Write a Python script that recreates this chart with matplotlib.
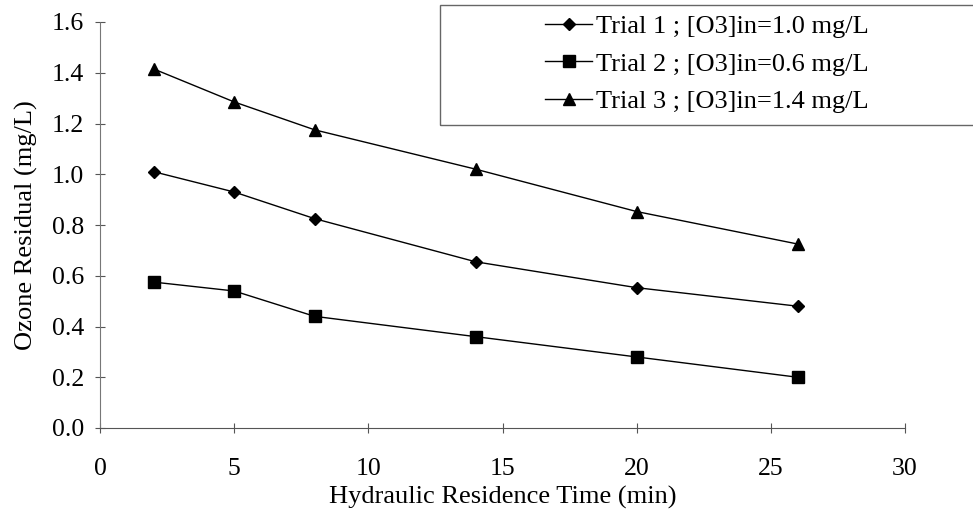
import matplotlib.pyplot as plt
from matplotlib.patches import Rectangle

plt.rcParams['font.family'] = ['Liberation Serif', 'DejaVu Serif']

# data
hrt = [2, 5, 8, 14, 20, 26]
trial1 = [1.01, 0.93, 0.825, 0.655, 0.553, 0.48]
trial2 = [0.575, 0.54, 0.44, 0.36, 0.28, 0.20]
trial3 = [1.415, 1.285, 1.175, 1.02, 0.853, 0.725]
labels = ["Trial 1 ; [O3]in=1.0 mg/L",
          "Trial 2 ; [O3]in=0.6 mg/L",
          "Trial 3 ; [O3]in=1.4 mg/L"]

fig = plt.figure(figsize=(9.73, 5.14), dpi=100)
ax = fig.add_axes([100/973, 1 - 428/514, 805/973, 406/514])

ax.plot(hrt, trial1, color='black', lw=1, marker='D', ms=6, label=labels[0])
ax.plot(hrt, trial2, color='black', lw=1, marker='s', ms=8.5, label=labels[1])
ax.plot(hrt, trial3, color='black', lw=1, marker='^', ms=8.5, label=labels[2])

ax.set_xlim(0, 30)
ax.set_ylim(0, 1.6)
ax.set_xticks(range(0, 31, 5))
ax.set_yticks([i * 0.2 for i in range(9)])
ax.set_yticklabels([f"{i * 0.2:.1f}" for i in range(9)])
ax.tick_params(direction='inout', length=7, width=0.8, labelsize=18.5, color='#555555')
ax.tick_params(axis='x', pad=18)
ax.tick_params(axis='y', pad=8)
ax.spines['top'].set_visible(False)
ax.spines['right'].set_visible(False)
ax.spines['left'].set_color('#777777')
ax.spines['left'].set_linestyle((0, (2, 1)))
ax.spines['bottom'].set_color('#555555')

ax.set_xlabel("Hydraulic Residence Time (min)", fontsize=19, labelpad=4)
ax.set_ylabel("Ozone Residual (mg/L)", fontsize=19, labelpad=10)

# legend box
fig.add_artist(Rectangle((440/973, 1 - 125/514), 540/973, 120/514,
                         transform=fig.transFigure, fill=False,
                         edgecolor='#666666', lw=1))
fig.legend(loc='upper left', bbox_to_anchor=(527/973, 1 + 4/514),
           frameon=False, fontsize=19, handlelength=1.75, handletextpad=0.15,
           labelspacing=0.54, borderpad=0.2)

fig.savefig('out.png', dpi=100)
